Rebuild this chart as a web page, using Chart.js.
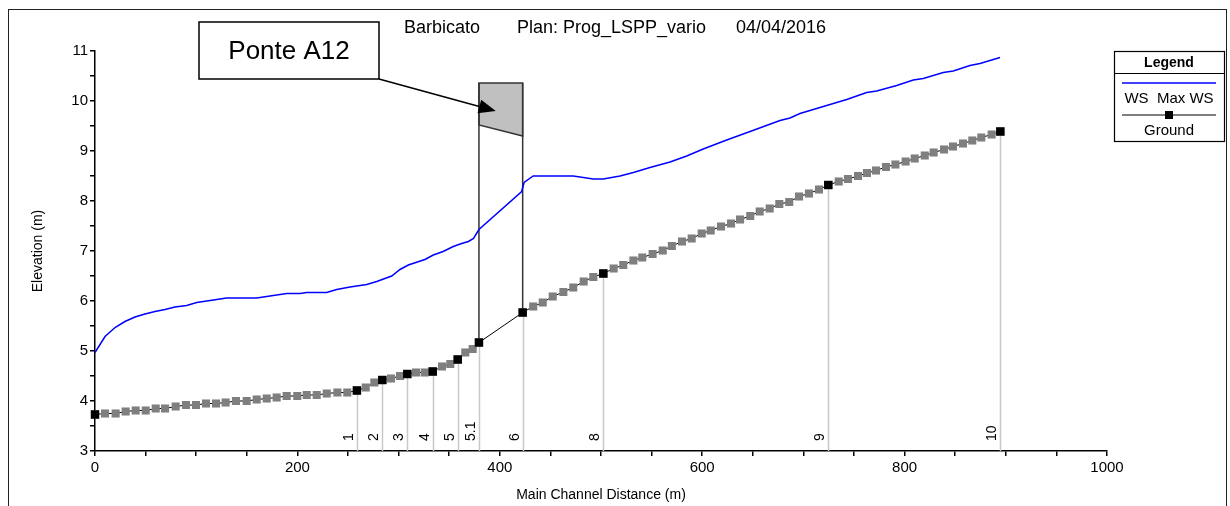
<!DOCTYPE html>
<html><head><meta charset="utf-8">
<script src="https://cdn.jsdelivr.net/npm/chart.js@4.4.1/dist/chart.umd.min.js"></script>
<style>html,body{margin:0;padding:0;background:#fff;overflow:hidden}canvas{display:block}</style>
</head><body>
<canvas id="c" width="1230" height="506"></canvas>
<script>
// ---- texts ----
const titleParts = ['Barbicato', 'Plan: Prog_LSPP_vario', '04/04/2016'];
const xAxisTitle = 'Main Channel Distance (m)';
const yAxisTitle = 'Elevation (m)';
const legendTitle = 'Legend';
const wsLabel = 'WS  Max WS';
const groundLabel = 'Ground';
const bridgeLabel = 'Ponte A12';

// ---- river stations (black markers) ----
const stationNames = ['', '1', '2', '3', '4', '5', '5.1', '6', '8', '9', '10'];
const stationX = [0, 258.8, 283.9, 308.6, 333.7, 358.4, 379.4, 422.6, 502.3, 724.6, 894.6];
const stationGround = [3.73, 4.21, 4.42, 4.54, 4.59, 4.83, 5.17, 5.77, 6.55, 8.32, 9.39];

// ---- interpolated sections (grey markers) ----
const interpX = [9.9, 20.4, 30.3, 40.2, 50.1, 60, 69.2, 79.7, 89.9, 99.8, 109.7, 119.6, 129.1, 139.3, 149.9, 159.8, 169.7, 179.5, 189.4, 199.9, 209.2, 219.1, 229, 239.5, 249.3,
  267.5, 276, 292.5, 301.4, 317.2, 325.8, 342.9, 351.1, 365.9, 373.2,
  433, 442.4, 452.3, 462.8, 472.6, 482.9, 492.4,
  512.5, 522, 532, 540.8, 551, 561, 570, 580, 589.6, 599.5, 608.4, 618.6, 628.5, 637.4, 647.5, 656.8, 666.7, 676.2, 686, 695.7, 705.5, 715.4,
  734.9, 744, 754, 762.8, 771.7, 781.6, 790.9, 801, 810, 819.9, 828.7, 839, 847.8, 857.7, 866.9, 875.8, 886];
const interpGround = [3.75, 3.75, 3.79, 3.81, 3.81, 3.85, 3.85, 3.89, 3.92, 3.92, 3.95, 3.95, 3.97, 4.0, 4.0, 4.03, 4.05, 4.07, 4.1, 4.1, 4.12, 4.12, 4.15, 4.17, 4.17,
  4.27, 4.37, 4.45, 4.5, 4.57, 4.57, 4.69, 4.74, 4.97, 5.04,
  5.89, 5.97, 6.09, 6.18, 6.27, 6.39, 6.48,
  6.65, 6.72, 6.81, 6.87, 6.94, 7.01, 7.1, 7.19, 7.25, 7.35, 7.41, 7.49, 7.55, 7.63, 7.7, 7.79, 7.85, 7.94, 7.98, 8.09, 8.15, 8.23,
  8.39, 8.44, 8.5, 8.56, 8.61, 8.68, 8.73, 8.79, 8.85, 8.91, 8.97, 9.03, 9.09, 9.15, 9.21, 9.27, 9.33];

// ---- water surface (WS Max WS) ----
const wsX = [0, 9.9, 19.8, 29.6, 39.5, 49.4, 59.3, 69.2, 79, 90.6, 100.5, 110.4, 120.3, 130.1, 159.8, 169.7, 179.5, 189.4, 202.6, 209.2,
  229, 238.8, 252, 268.5, 278.4, 293.2, 301.4, 309.6, 326, 334.3, 344, 354, 362.3, 369, 374, 379.4, 421.6, 424, 433, 472.6,
  492.4, 502.3, 518.8, 532, 548.4, 568.2, 584.7, 601, 624.2, 650, 676.9, 686.8, 696.6, 716.4, 742.8, 762.5, 772.4, 792.2, 808.6, 818.5,
  838.2, 848.1, 864.6, 874.5, 894.3];
const wsY = [4.97, 5.29, 5.47, 5.59, 5.68, 5.74, 5.79, 5.83, 5.88, 5.91, 5.97, 6.0, 6.03, 6.06, 6.06, 6.09, 6.12, 6.15, 6.15, 6.17,
  6.17, 6.23, 6.28, 6.33, 6.39, 6.5, 6.63, 6.72, 6.83, 6.92, 6.99, 7.09, 7.15, 7.19, 7.25, 7.43, 8.19, 8.37, 8.5, 8.5,
  8.44, 8.44, 8.5, 8.57, 8.67, 8.78, 8.9, 9.04, 9.22, 9.41, 9.61, 9.66, 9.75, 9.87, 10.03, 10.17, 10.2, 10.31, 10.42, 10.45,
  10.57, 10.6, 10.71, 10.75, 10.87];

// ---- bridge ----
const bridgeStations = ['5.1', '6'];
const bridgeTop = [10.36, 10.36];
const bridgeLowChord = [9.52, 9.3];
const bridgeArrowTip = [396, 9.8];

// ---- axes ----
const xMin = 0, xMax = 1000, xStep = 50, xLabelEvery = 200;
const yMin = 3, yMax = 11, yStep = 0.5;

const FONT = '"Liberation Sans", Arial, Helvetica, sans-serif';
Chart.defaults.font.family = FONT;
Chart.defaults.color = '#000';

const stationPts = stationX.map((v, i) => ({x: v, y: stationGround[i]}));
const groundPts = stationPts.concat(interpX.map((v, i) => ({x: v, y: interpGround[i]}))).sort((a, b) => a.x - b.x);
const wsPts = wsX.map((v, i) => ({x: v, y: wsY[i]}));

const deco = {
  id: 'deco',
  beforeDatasetsDraw(chart) {
    const {ctx, scales: {x, y}} = chart;
    ctx.save();
    const yBase = y.getPixelForValue(yMin);
    // station lines
    ctx.strokeStyle = '#c8c8c8';
    ctx.lineWidth = 1.5;
    stationNames.forEach((n, i) => {
      if (!n) return;
      const px = Math.round(x.getPixelForValue(stationX[i])) + 0.5;
      ctx.beginPath();
      ctx.moveTo(px, y.getPixelForValue(stationGround[i]));
      ctx.lineTo(px, yBase);
      ctx.stroke();
    });
    // station labels
    ctx.fillStyle = '#000';
    ctx.font = '14px ' + FONT;
    ctx.textAlign = 'left';
    ctx.textBaseline = 'bottom';
    stationNames.forEach((n, i) => {
      if (!n) return;
      const px = x.getPixelForValue(stationX[i]);
      ctx.save();
      ctx.translate(px - 1, yBase - 10);
      ctx.rotate(-Math.PI / 2);
      ctx.fillText(n, 0, 0);
      ctx.restore();
    });
    // bridge
    const bi = bridgeStations.map(s => stationNames.indexOf(s));
    const xl = x.getPixelForValue(stationX[bi[0]]), xr = x.getPixelForValue(stationX[bi[1]]);
    const ytl = y.getPixelForValue(bridgeTop[0]), ytr = y.getPixelForValue(bridgeTop[1]);
    const yll = y.getPixelForValue(bridgeLowChord[0]), ylr = y.getPixelForValue(bridgeLowChord[1]);
    ctx.beginPath();
    ctx.moveTo(xl, ytl); ctx.lineTo(xr, ytr); ctx.lineTo(xr, ylr); ctx.lineTo(xl, yll); ctx.closePath();
    ctx.fillStyle = '#c0c0c0';
    ctx.fill();
    ctx.strokeStyle = '#333';
    ctx.lineWidth = 1.5;
    ctx.stroke();
    ctx.beginPath();
    ctx.moveTo(xl, ytl); ctx.lineTo(xl, y.getPixelForValue(stationGround[bi[0]]));
    ctx.moveTo(xr, ytr); ctx.lineTo(xr, y.getPixelForValue(stationGround[bi[1]]));
    ctx.stroke();
    ctx.restore();
  },
  afterDraw(chart) {
    const {ctx, scales: {x, y}} = chart;
    ctx.save();
    // frame
    ctx.strokeStyle = '#222';
    ctx.lineWidth = 1;
    ctx.strokeRect(8.5, 9.5, 1218, 520);
    // title
    ctx.fillStyle = '#000';
    ctx.font = '18px ' + FONT;
    ctx.textBaseline = 'middle';
    ctx.textAlign = 'left';
    ctx.fillText(titleParts[0], 404, 28);
    ctx.fillText(titleParts[1], 517, 28);
    ctx.fillText(titleParts[2], 736, 28);
    // Ponte A12 box
    const bx = 199, by = 22, bw = 180, bh = 57;
    ctx.fillStyle = '#fff';
    ctx.fillRect(bx, by, bw, bh);
    ctx.strokeStyle = '#000';
    ctx.lineWidth = 1.5;
    ctx.strokeRect(bx, by, bw, bh);
    ctx.fillStyle = '#000';
    ctx.font = '26px ' + FONT;
    ctx.textAlign = 'center';
    ctx.fillText(bridgeLabel, bx + bw / 2, by + bh / 2 + 1);
    // arrow
    const tx = x.getPixelForValue(bridgeArrowTip[0]), ty = y.getPixelForValue(bridgeArrowTip[1]);
    const sx = bx + bw, sy = by + bh;
    const ang = Math.atan2(ty - sy, tx - sx);
    const hl = 17, hw = 7;
    ctx.beginPath();
    ctx.moveTo(sx, sy);
    ctx.lineTo(tx - hl * Math.cos(ang), ty - hl * Math.sin(ang));
    ctx.stroke();
    ctx.beginPath();
    ctx.moveTo(tx, ty);
    ctx.lineTo(tx - hl * Math.cos(ang) + hw * Math.sin(ang), ty - hl * Math.sin(ang) - hw * Math.cos(ang));
    ctx.lineTo(tx - hl * Math.cos(ang) - hw * Math.sin(ang), ty - hl * Math.sin(ang) + hw * Math.cos(ang));
    ctx.closePath();
    ctx.fill();
    // legend
    const lx = 1114, ly = 51, lw = 110, lh = 90;
    ctx.lineWidth = 1.2;
    ctx.strokeStyle = '#000';
    ctx.strokeRect(lx + 0.5, ly + 0.5, lw, lh);
    ctx.beginPath();
    ctx.moveTo(lx, ly + 22.5); ctx.lineTo(lx + lw, ly + 22.5);
    ctx.stroke();
    ctx.font = 'bold 14px ' + FONT;
    ctx.textAlign = 'center';
    ctx.fillText(legendTitle, lx + lw / 2, ly + 12);
    ctx.strokeStyle = '#0000ff';
    ctx.lineWidth = 1.5;
    ctx.beginPath();
    ctx.moveTo(lx + 8, ly + 32); ctx.lineTo(lx + lw - 8, ly + 32);
    ctx.stroke();
    ctx.font = '15px ' + FONT;
    ctx.fillText(wsLabel, lx + lw / 2, ly + 48);
    ctx.strokeStyle = '#000';
    ctx.lineWidth = 1.2;
    ctx.beginPath();
    ctx.moveTo(lx + 8, ly + 64); ctx.lineTo(lx + lw - 8, ly + 64);
    ctx.stroke();
    ctx.fillRect(lx + lw / 2 - 4, ly + 60, 8, 8);
    ctx.fillText(groundLabel, lx + lw / 2, ly + 80);
    ctx.restore();
  }
};

new Chart(document.getElementById('c'), {
  type: 'scatter',
  data: {
    datasets: [
      {label: wsLabel, data: wsPts, showLine: true, borderColor: '#0000ff', borderWidth: 1.5, pointRadius: 0, order: 0, clip: false},
      {label: 'Stations', data: stationPts, showLine: false, pointStyle: 'rect', pointRadius: 6, pointBackgroundColor: '#000', pointBorderColor: '#000', pointBorderWidth: 0, order: 1, clip: false},
      {label: groundLabel, data: groundPts, showLine: true, borderColor: '#000', borderWidth: 1, pointStyle: 'rect', pointRadius: 5.7, pointBackgroundColor: '#7f7f7f', pointBorderColor: '#7f7f7f', pointBorderWidth: 0, order: 2, clip: false}
    ]
  },
  options: {
    responsive: false,
    animation: false,
    events: [],
    layout: {padding: {left: 0, right: 123, top: 51, bottom: 0}},
    plugins: {legend: {display: false}, title: {display: false}, tooltip: {enabled: false}},
    scales: {
      x: {
        type: 'linear', min: xMin, max: xMax,
        ticks: {stepSize: xStep, autoSkip: false, maxRotation: 0, padding: 3, color: '#000', font: {size: 15},
          callback: v => (v % xLabelEvery === 0 ? String(v) : '')},
        grid: {drawOnChartArea: false, drawTicks: true, tickLength: 5, color: '#000', lineWidth: 1.5},
        border: {display: true, color: '#000', width: 1.5},
        title: {display: true, text: xAxisTitle, color: '#000', font: {size: 14}, padding: {top: 0, bottom: 2}},
        afterFit(s) { s.height = 55; }
      },
      y: {
        type: 'linear', min: yMin, max: yMax,
        ticks: {stepSize: yStep, autoSkip: false, padding: 2, color: '#000', font: {size: 15},
          callback: v => (Number.isInteger(v) ? String(v) : '')},
        grid: {drawOnChartArea: false, drawTicks: true, tickLength: 5, color: '#000', lineWidth: 1.5},
        border: {display: true, color: '#000', width: 1.5},
        title: {display: true, text: yAxisTitle, color: '#000', font: {size: 14}, padding: {top: 30, bottom: 0}},
        afterFit(s) { s.width = 95; }
      }
    }
  },
  plugins: [deco]
});
</script>
</body></html>
